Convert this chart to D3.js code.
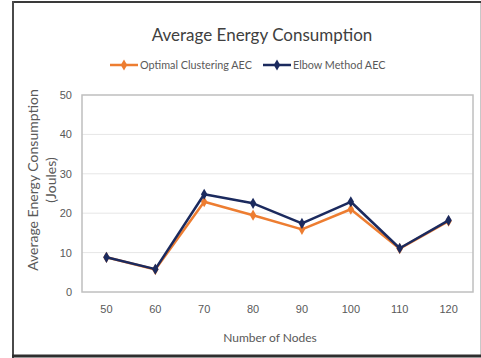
<!DOCTYPE html>
<html><head><meta charset="utf-8">
<script src="https://cdn.jsdelivr.net/npm/d3@7"></script>
<style>body{margin:0;background:#fff;}svg{display:block;font-family:Lato,"Open Sans",sans-serif;}</style>
</head><body>
<script>
const categories = ["50","60","70","80","90","100","110","120"];
const optimalAEC = [8.8, 5.7, 22.9, 19.5, 15.9, 21.0, 11.0, 18.0];
const elbowAEC = [8.8, 5.8, 24.8, 22.5, 17.4, 22.9, 11.1, 18.2];
const yTicks = [0, 10, 20, 30, 40, 50];
const seriesNames = ["Optimal Clustering AEC", "Elbow Method AEC"];
const colors = ["#ED7D31", "#1B2A5E"];

(function(){
const W = 481, H = 358;
const svg = d3.select("body").append("svg").attr("width", W).attr("height", H);
svg.append("rect").attr("x",0).attr("y",0).attr("width",W).attr("height",H).attr("fill","#fff");
// outer frame
svg.append("line").attr("x1",480.5).attr("x2",480.5).attr("y1",2).attr("y2",356).attr("stroke","#c8c8c8").attr("stroke-width",1);
svg.append("line").attr("x1",12).attr("x2",481).attr("y1",2).attr("y2",2).attr("stroke","#3a3a3a").attr("stroke-width",2);
svg.append("line").attr("x1",13).attr("x2",13).attr("y1",1).attr("y2",358).attr("stroke","#4a4a4a").attr("stroke-width",2);
svg.append("line").attr("x1",12).attr("x2",481).attr("y1",356).attr("y2",356).attr("stroke","#2e2e2e").attr("stroke-width",3);

const pl = 82, pr = 473, pt = 95, pb = 292;
const x = d3.scaleBand().domain(categories).range([pl, pr]);
const y = d3.scaleLinear().domain([0, 50]).range([pb, pt]);

svg.append("g").selectAll("line").data(yTicks.filter(d=>d>0&&d<50)).join("line")
  .attr("x1", pl).attr("x2", pr).attr("y1", d=>y(d)).attr("y2", d=>y(d))
  .attr("stroke","#e6e6e6").attr("stroke-width",1);
svg.append("rect").attr("x",pl).attr("y",pt).attr("width",pr-pl).attr("height",pb-pt)
  .attr("fill","none").attr("stroke","#bfbfbf").attr("stroke-width",1.5);

const yAxis = svg.append("g").attr("transform",`translate(${pl},0)`)
  .call(d3.axisLeft(y).tickValues(yTicks).tickSize(0).tickPadding(10));
yAxis.select(".domain").remove();
yAxis.selectAll("text").attr("fill","#595959").style("font-size","11px");

const xAxis = svg.append("g").attr("transform",`translate(0,${pb})`)
  .call(d3.axisBottom(x).tickSize(0).tickPadding(13));
xAxis.select(".domain").remove();
xAxis.selectAll("text").attr("fill","#595959").style("font-size","11px");

const series = [optimalAEC, elbowAEC];
const line = d3.line().x((d,i)=>x(categories[i])+x.bandwidth()/2).y(d=>y(d));
series.forEach((vals, si) => {
  svg.append("path").datum(vals).attr("d", line).attr("fill","none")
    .attr("stroke", colors[si]).attr("stroke-width", 2.5).attr("stroke-linejoin","round");
  svg.append("g").selectAll("path").data(vals).join("path")
    .attr("d", d3.symbol(d3.symbolDiamond, 36))
    .attr("transform",(d,i)=>`translate(${x(categories[i])+x.bandwidth()/2},${y(d)})`)
    .attr("fill", colors[si]);
});

svg.append("text").attr("x",262).attr("y",41).attr("text-anchor","middle")
  .attr("fill","#404040").style("font-size","17px").text("Average Energy Consumption");

const legX = [110, 263];
seriesNames.forEach((n, i) => {
  const g = svg.append("g").attr("transform",`translate(${legX[i]},65)`);
  g.append("line").attr("x1",0).attr("x2",28).attr("stroke",colors[i]).attr("stroke-width",2.5);
  g.append("path").attr("d", d3.symbol(d3.symbolDiamond, 36)).attr("transform","translate(14,0)").attr("fill",colors[i]);
  g.append("text").attr("x",30).attr("y",4).attr("fill","#595959").style("font-size","10.8px").text(n);
});

svg.append("text").attr("transform","translate(38,180) rotate(-90)").attr("text-anchor","middle")
  .attr("fill","#595959").style("font-size","14px").text("Average Energy Consumption");
svg.append("text").attr("transform","translate(56,180) rotate(-90)").attr("text-anchor","middle")
  .attr("fill","#595959").style("font-size","14px").text("(Joules)");
svg.append("text").attr("x",270).attr("y",342).attr("text-anchor","middle")
  .attr("fill","#595959").style("font-size","12px").text("Number of Nodes");
})();
</script>
</body></html>
